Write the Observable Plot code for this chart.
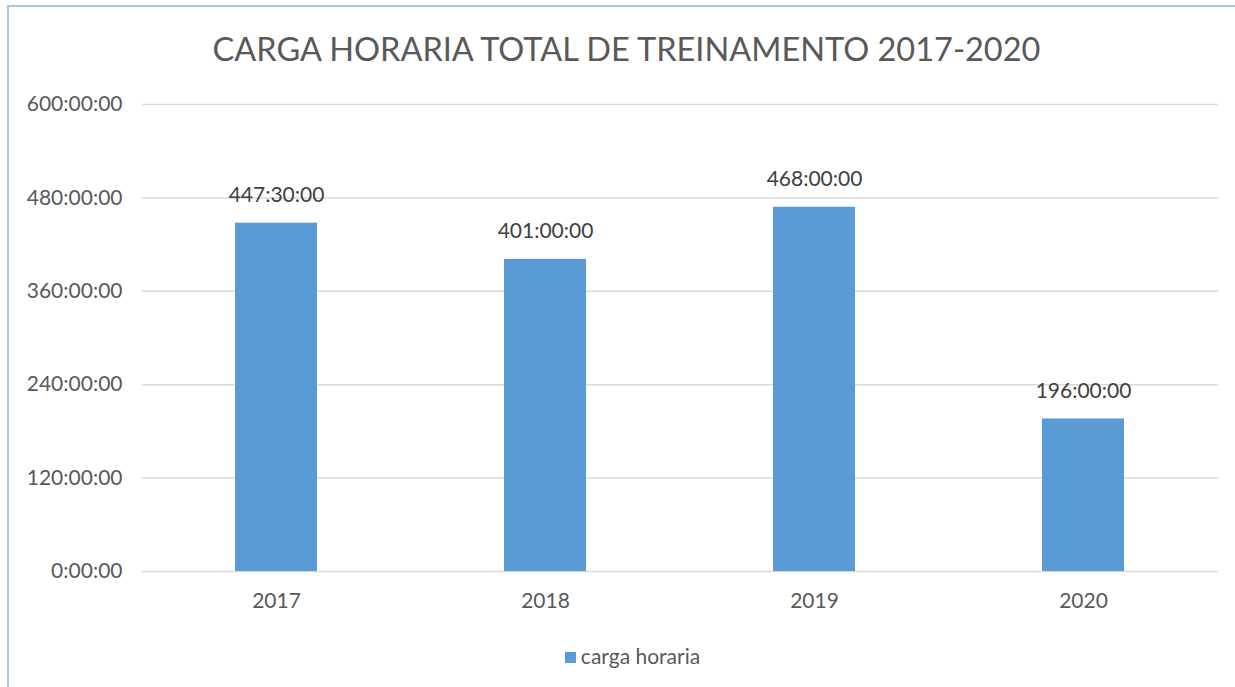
<!DOCTYPE html>
<html>
<head>
<meta charset="utf-8">
<script src="https://cdn.jsdelivr.net/npm/d3@7"></script>
<script src="https://cdn.jsdelivr.net/npm/@observablehq/plot@0.6"></script>
<style>
  html, body { margin: 0; padding: 0; background: #fff; overflow: hidden; }
  #wrap { position: relative; width: 1235px; height: 687px; font-family: Lato, "Open Sans", sans-serif; color: #595959; }
  #frame { position: absolute; left: 7px; top: 5px; width: 1240px; height: 700px; border-left: 2px solid #a7c6e6; border-top: 2px solid #a7c6e6; }
  #title { position: absolute; left: 0; width: 1253px; top: 29px; text-align: center; font-size: 32.5px; color: #595959; }
  #chart { position: absolute; left: 0; top: 80px; }
  #legend { position: absolute; left: 0; width: 1265px; top: 643px; text-align: center; font-size: 21px; color: #595959; }
  #legend .sw { display: inline-block; width: 11px; height: 11px; background: #5b9bd5; margin-right: 5px; vertical-align: 1px; }
</style>
</head>
<body>
<div id="wrap">
  <div id="frame"></div>
  <div id="title">CARGA HORARIA TOTAL DE TREINAMENTO 2017-2020</div>
  <div id="chart"></div>
  <div id="legend"><span class="sw"></span>carga horaria</div>
</div>
<script>
const years = ["2017", "2018", "2019", "2020"];
const hours = [447.5, 401, 468, 196];
const yTicks = [0, 120, 240, 360, 480, 600];

const data = years.map((y, i) => ({year: y, hours: hours[i]}));

function fmt(h) {
  const hh = Math.floor(h);
  const mm = Math.round((h - hh) * 60);
  return `${hh}:${String(mm).padStart(2, "0")}:00`;
}

const chart = Plot.plot({
  width: 1235,
  height: 560,
  marginTop: 24,
  marginBottom: 69,
  marginLeft: 142,
  marginRight: 17,
  style: {fontFamily: "Lato, 'Open Sans', sans-serif", color: "#595959", background: "transparent"},
  x: {domain: years, paddingInner: 0.695, paddingOuter: 0.3475, label: null},
  y: {domain: [0, 600], label: null},
  marks: [
    Plot.gridY(yTicks, {stroke: "#d9d9d9", strokeOpacity: 1, strokeWidth: 1.5}),
    Plot.barY(data, {x: "year", y: "hours", fill: "#5b9bd5"}),
    Plot.text(data, {x: "year", y: "hours", text: d => fmt(d.hours), dy: -28, fontSize: 21, fill: "#404040"}),
    Plot.axisY(yTicks, {tickSize: 0, tickPadding: 20, tickFormat: d => `${d}:00:00`, fontSize: 21, label: null}),
    Plot.axisX({tickSize: 0, tickPadding: 22, fontSize: 21, label: null})
  ]
});
document.getElementById("chart").appendChild(chart);
</script>
</body>
</html>
